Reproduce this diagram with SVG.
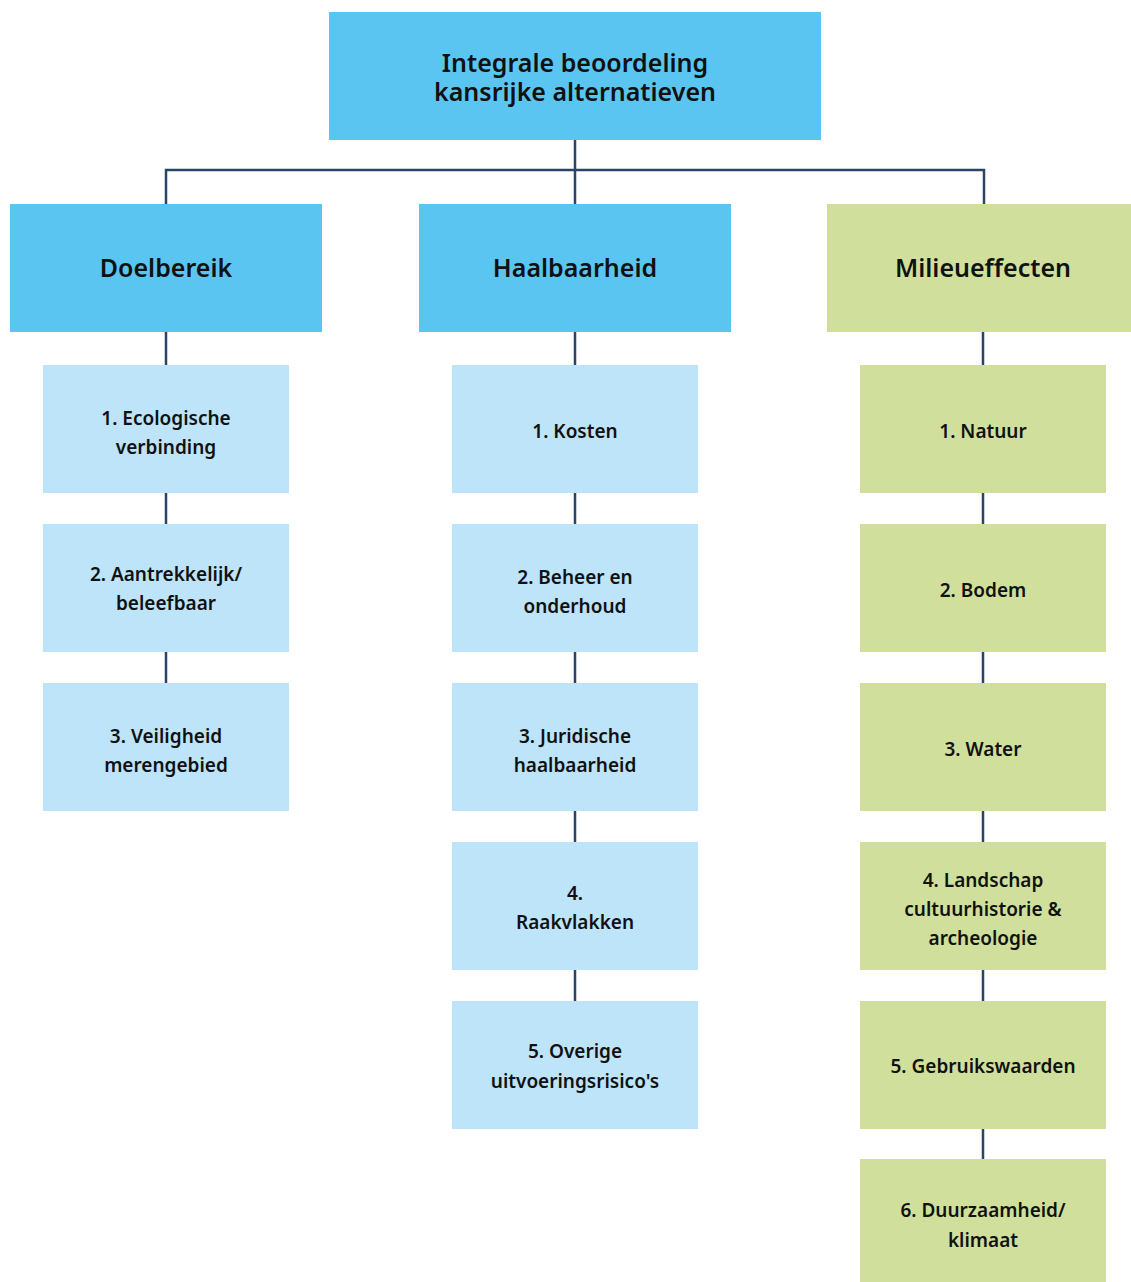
<svg xmlns="http://www.w3.org/2000/svg" width="1131" height="1282" viewBox="0 0 1131 1282">
<style>
text{font-family:"Noto Sans","Open Sans","Liberation Sans",sans-serif;font-weight:600;fill:#111;text-anchor:middle}
.h{font-size:25px}
.c{font-size:19px}
.b1{fill:#5bc5f2}
.b2{fill:#bde4f9}
.g{fill:#d0e09c}
.ln{stroke:#2b4466;stroke-width:2.5;fill:none}
</style>
<rect width="1131" height="1282" fill="#fff"/>
<g id="connectors" class="ln">
<path d="M575 140V204M166 204V170H984V204"/>
<path d="M166 332V365M166 493V524M166 652V683"/>
<path d="M575 332V365M575 493V524M575 652V683M575 811V842M575 970V1001"/>
<path d="M983 332V365M983 493V524M983 652V683M983 811V842M983 970V1001M983 1129V1159"/>
</g>
<g id="root"><rect class="b1" x="329" y="12" width="492" height="128"/><text class="h" x="575" y="72">Integrale beoordeling</text><text class="h" x="575" y="101">kansrijke alternatieven</text></g>
<g id="doelbereik"><rect class="b1" x="10" y="204" width="312" height="128"/><text class="h" x="166" y="277">Doelbereik</text></g>
<g id="haalbaarheid"><rect class="b1" x="419" y="204" width="312" height="128"/><text class="h" x="575" y="277">Haalbaarheid</text></g>
<g id="milieueffecten"><rect class="g" x="827" y="204" width="304" height="128"/><text class="h" x="983" y="277">Milieueffecten</text></g>
<g id="d1"><rect class="b2" x="43" y="365" width="246" height="128"/><text class="c" x="166" y="425">1. Ecologische</text><text class="c" x="166" y="454">verbinding</text></g>
<g id="d2"><rect class="b2" x="43" y="524" width="246" height="128"/><text class="c" x="166" y="581">2. Aantrekkelijk/</text><text class="c" x="166" y="610">beleefbaar</text></g>
<g id="d3"><rect class="b2" x="43" y="683" width="246" height="128"/><text class="c" x="166" y="743">3. Veiligheid</text><text class="c" x="166" y="772">merengebied</text></g>
<g id="h1"><rect class="b2" x="452" y="365" width="246" height="128"/><text class="c" x="575" y="438">1. Kosten</text></g>
<g id="h2"><rect class="b2" x="452" y="524" width="246" height="128"/><text class="c" x="575" y="584">2. Beheer en</text><text class="c" x="575" y="613">onderhoud</text></g>
<g id="h3"><rect class="b2" x="452" y="683" width="246" height="128"/><text class="c" x="575" y="743">3. Juridische</text><text class="c" x="575" y="772">haalbaarheid</text></g>
<g id="h4"><rect class="b2" x="452" y="842" width="246" height="128"/><text class="c" x="575" y="900">4.</text><text class="c" x="575" y="929">Raakvlakken</text></g>
<g id="h5"><rect class="b2" x="452" y="1001" width="246" height="128"/><text class="c" x="575" y="1058">5. Overige</text><text class="c" x="575" y="1088">uitvoeringsrisico's</text></g>
<g id="m1"><rect class="g" x="860" y="365" width="246" height="128"/><text class="c" x="983" y="438">1. Natuur</text></g>
<g id="m2"><rect class="g" x="860" y="524" width="246" height="128"/><text class="c" x="983" y="597">2. Bodem</text></g>
<g id="m3"><rect class="g" x="860" y="683" width="246" height="128"/><text class="c" x="983" y="756">3. Water</text></g>
<g id="m4"><rect class="g" x="860" y="842" width="246" height="128"/><text class="c" x="983" y="887">4. Landschap</text><text class="c" x="983" y="916">cultuurhistorie &amp;</text><text class="c" x="983" y="945">archeologie</text></g>
<g id="m5"><rect class="g" x="860" y="1001" width="246" height="128"/><text class="c" x="983" y="1073">5. Gebruikswaarden</text></g>
<g id="m6"><rect class="g" x="860" y="1159" width="246" height="123"/><text class="c" x="983" y="1217">6. Duurzaamheid/</text><text class="c" x="983" y="1247">klimaat</text></g>
</svg>
